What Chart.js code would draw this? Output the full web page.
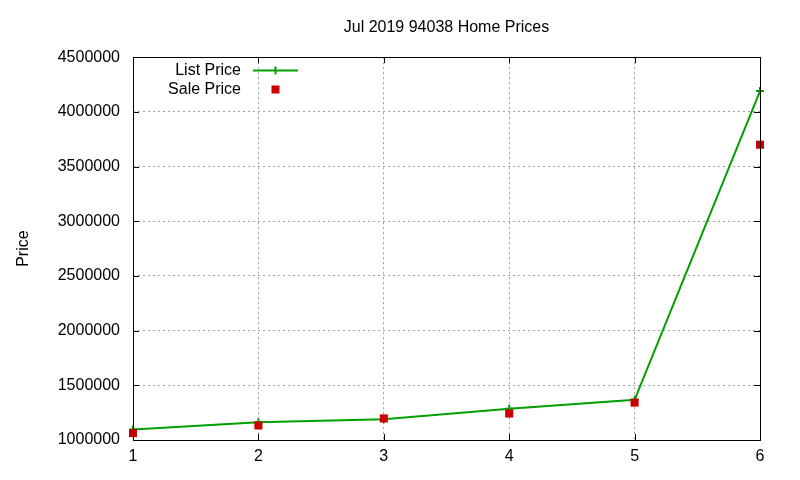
<!DOCTYPE html>
<html>
<head>
<meta charset="utf-8">
<script src="https://cdn.jsdelivr.net/npm/chart.js@4"></script>
<style>
  body { margin: 0; background: #fff; }
</style>
</head>
<body>
<canvas id="chart" width="800" height="480"></canvas>
<script>
const months = [1, 2, 3, 4, 5, 6];
const listPrice = [1095000, 1162000, 1190000, 1285000, 1367000, 4190000];
const salePrice = [1063000, 1133000, 1197000, 1242000, 1342000, 3700000];
const yTicks = [1000000, 1500000, 2000000, 2500000, 3000000, 3500000, 4000000, 4500000];

const FONT = "'Liberation Sans', Arial, sans-serif";

// gnuplot-ish frame: black border with inward ticks on all four sides
const framePlugin = {
  id: "frame",
  afterDatasetsDraw(chart) {
    const { ctx, chartArea: a, scales } = chart;
    ctx.save();
    ctx.strokeStyle = "#000";
    ctx.lineWidth = 1;
    ctx.beginPath();
    for (const v of yTicks) {
      const y = Math.round(scales.y.getPixelForValue(v)) + 0.5;
      ctx.moveTo(a.left, y); ctx.lineTo(a.left + 6, y);
      ctx.moveTo(a.right, y); ctx.lineTo(a.right - 6, y);
    }
    for (const m of months) {
      const x = Math.round(scales.x.getPixelForValue(m)) + 0.5;
      ctx.moveTo(x, a.bottom); ctx.lineTo(x, a.bottom - 6);
      ctx.moveTo(x, a.top); ctx.lineTo(x, a.top + 6);
    }
    ctx.stroke();
    ctx.strokeRect(Math.round(a.left) + 0.5, Math.round(a.top) + 0.5,
      Math.round(a.right - a.left), Math.round(a.bottom - a.top));
    ctx.restore();
  }
};

// legend inside the plot, text right-aligned before the sample
const keyPlugin = {
  id: "key",
  afterDraw(chart) {
    const { ctx } = chart;
    const textRight = 241, sx = 253, ex = 298, mx = 275.5;
    ctx.save();
    ctx.font = "16px " + FONT;
    ctx.textAlign = "right";
    ctx.textBaseline = "middle";
    chart.data.datasets.forEach((ds, i) => {
      const y = 70.5 + i * 19;
      ctx.fillStyle = "#000";
      ctx.fillText(ds.label, textRight, y);
      if (ds.showLine) {
        ctx.strokeStyle = ds.borderColor;
        ctx.lineWidth = 2;
        ctx.beginPath();
        ctx.moveTo(sx, y); ctx.lineTo(ex, y);
        ctx.moveTo(mx, y - 4); ctx.lineTo(mx, y + 4);
        ctx.stroke();
      } else {
        ctx.fillStyle = ds.backgroundColor;
        ctx.fillRect(mx - 4, y - 4, 8, 8);
      }
    });
    ctx.restore();
  }
};

new Chart(document.getElementById("chart"), {
  type: "scatter",
  data: {
    datasets: [
      {
        label: "List Price",
        data: months.map((m, i) => ({ x: m, y: listPrice[i] })),
        order: 1,
        showLine: true,
        clip: false,
        borderColor: "#00a000",
        backgroundColor: "#00a000",
        borderWidth: 2,
        pointStyle: "cross",
        pointRadius: 4,
        pointBorderWidth: 2,
        tension: 0
      },
      {
        label: "Sale Price",
        data: months.map((m, i) => ({ x: m, y: salePrice[i] })),
        order: 0,
        showLine: false,
        clip: false,
        borderColor: "#cc0000",
        backgroundColor: "#cc0000",
        pointStyle: "rect",
        pointRadius: 5.7,
        pointBorderWidth: 0
      }
    ]
  },
  options: {
    responsive: false,
    animation: false,
    devicePixelRatio: 1,
    layout: { padding: { left: 0, right: 40, top: 0, bottom: 0 } },
    plugins: {
      legend: { display: false },
      tooltip: { enabled: false },
      title: {
        display: true,
        fullSize: false,
        text: "Jul 2019 94038 Home Prices",
        color: "#000",
        font: { family: FONT, size: 16, weight: "normal" },
        padding: { top: 18, bottom: 20 }
      }
    },
    scales: {
      x: {
        type: "linear",
        min: 1,
        max: 6,
        afterBuildTicks: (s) => { s.ticks = months.map(v => ({ value: v })); },
        afterFit: (s) => { s.height = 40; },
        ticks: { color: "#000", padding: 7, autoSkip: false, maxRotation: 0, font: { family: FONT, size: 16 } },
        grid: { color: "#a0a0a0", drawTicks: false },
        border: { display: false, dash: [2, 3] }
      },
      y: {
        min: 1000000,
        max: 4500000,
        afterBuildTicks: (s) => { s.ticks = yTicks.map(v => ({ value: v })); },
        afterFit: (s) => { s.width = 133; },
        ticks: {
          color: "#000",
          padding: 13,
          autoSkip: false,
          font: { family: FONT, size: 16 },
          callback: (v) => String(v)
        },
        grid: { color: "#a0a0a0", drawTicks: false },
        border: { display: false, dash: [2, 3] },
        title: {
          display: true,
          text: "Price",
          color: "#000",
          font: { family: FONT, size: 16 },
          padding: { top: 14, bottom: 0 }
        }
      }
    }
  },
  plugins: [framePlugin, keyPlugin]
});
</script>
</body>
</html>
